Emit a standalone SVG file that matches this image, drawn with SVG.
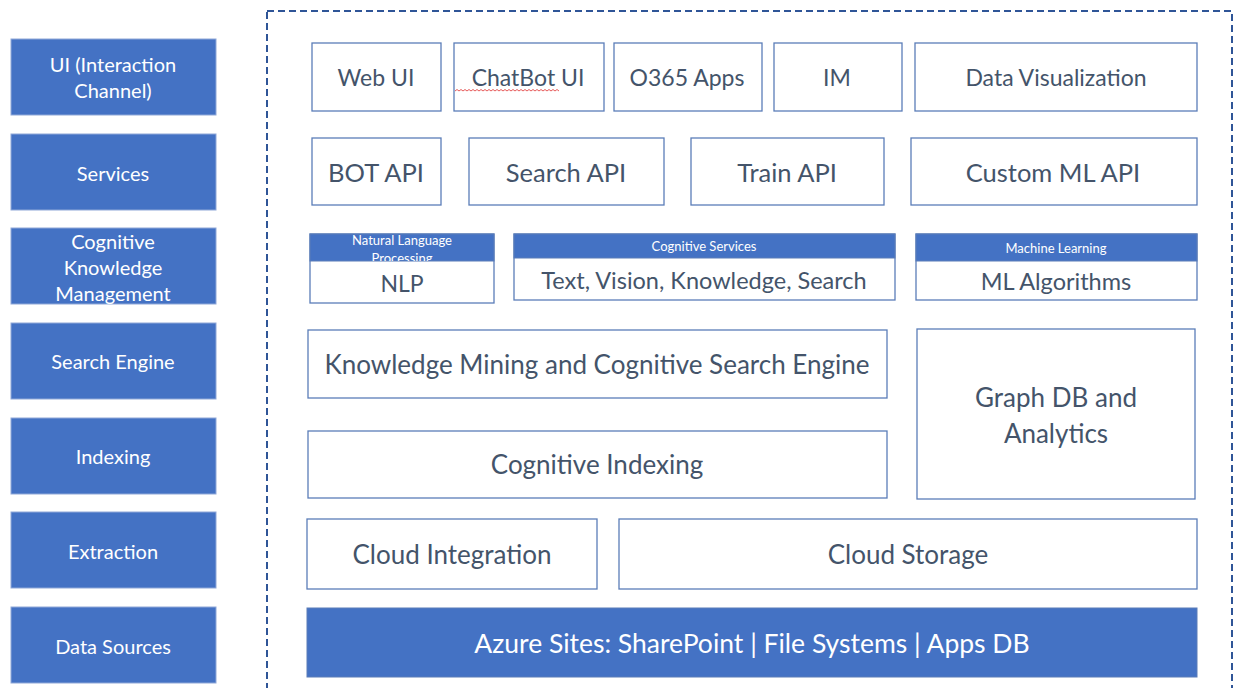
<svg xmlns="http://www.w3.org/2000/svg" width="1234" height="688" viewBox="0 0 1234 688">
<style>
.lb{fill:#4472C4;stroke:#8FA8D8;stroke-width:1}
.lt{fill:#FFFFFF;font-family:Lato,"Open Sans",sans-serif;font-size:20px;text-anchor:middle;dominant-baseline:central}
.wb{fill:#FFFFFF;stroke:#5B7DB8;stroke-width:1.3}
.hb{fill:#4472C4;stroke:#5B7DB8;stroke-width:1}
.t{fill:#44546A;font-family:Lato,"Open Sans",sans-serif;text-anchor:middle;dominant-baseline:central}
.ht{fill:#FFFFFF;font-family:Lato,"Open Sans",sans-serif;font-size:13px;text-anchor:middle;dominant-baseline:central}
.bt{fill:#FFFFFF;font-family:Lato,"Open Sans",sans-serif;font-size:26.5px;text-anchor:middle;dominant-baseline:central}
</style>
<defs><clipPath id="nlpclip"><rect x="310" y="234" width="184" height="27"/></clipPath></defs>
<rect width="1234" height="688" fill="#FFFFFF"/>
<rect id="boundary" x="267" y="11" width="965" height="700" fill="none" stroke="#2F5597" stroke-width="2" stroke-dasharray="7 4"/>
<g id="layers">
<g id="l-ui"><rect class="lb" x="11" y="39" width="205" height="76"/><text class="lt" x="113" y="64">UI (Interaction</text><text class="lt" x="113" y="90">Channel)</text></g>
<g id="l-services"><rect class="lb" x="11" y="134" width="205" height="76"/><text class="lt" x="113" y="173">Services</text></g>
<g id="l-ckm"><rect class="lb" x="11" y="228" width="205" height="76"/><text class="lt" x="113" y="241">Cognitive</text><text class="lt" x="113" y="267">Knowledge</text><text class="lt" x="113" y="293">Management</text></g>
<g id="l-search"><rect class="lb" x="11" y="323" width="205" height="76"/><text class="lt" x="113" y="361">Search Engine</text></g>
<g id="l-indexing"><rect class="lb" x="11" y="418" width="205" height="76"/><text class="lt" x="113" y="456">Indexing</text></g>
<g id="l-extraction"><rect class="lb" x="11" y="512" width="205" height="76"/><text class="lt" x="113" y="551">Extraction</text></g>
<g id="l-datasources"><rect class="lb" x="11" y="607" width="205" height="76"/><text class="lt" x="113" y="646">Data Sources</text></g>
</g>
<g id="webui"><rect class="wb" x="312" y="43" width="129" height="68"/><text class="t" x="376" y="77" font-size="23">Web UI</text></g>
<g id="chatbotui"><rect class="wb" x="454" y="43" width="150" height="68"/><text class="t" x="528" y="77" font-size="23">ChatBot UI</text><path d="M455 91 l2 -1.5 l2 1.5 l2 -1.5 l2 1.5 l2 -1.5 l2 1.5 l2 -1.5 l2 1.5 l2 -1.5 l2 1.5 l2 -1.5 l2 1.5 l2 -1.5 l2 1.5 l2 -1.5 l2 1.5 l2 -1.5 l2 1.5 l2 -1.5 l2 1.5 l2 -1.5 l2 1.5 l2 -1.5 l2 1.5 l2 -1.5 l2 1.5 l2 -1.5 l2 1.5 l2 -1.5 l2 1.5 l2 -1.5 l2 1.5 l2 -1.5 l2 1.5 l2 -1.5 l2 1.5 l2 -1.5 l2 1.5 l2 -1.5 l2 1.5 l2 -1.5 l2 1.5 l2 -1.5 l2 1.5 l2 -1.5 l2 1.5 l2 -1.5 l2 1.5 l2 -1.5 l2 1.5 l2 -1.5 l2 1.5" fill="none" stroke="#E03030" stroke-width="0.8"/></g>
<g id="o365"><rect class="wb" x="614" y="43" width="148" height="68"/><text class="t" x="687" y="77" font-size="23">O365 Apps</text></g>
<g id="im"><rect class="wb" x="774" y="43" width="128" height="68"/><text class="t" x="837" y="77" font-size="23">IM</text></g>
<g id="dataviz"><rect class="wb" x="915" y="43" width="282" height="68"/><text class="t" x="1056" y="77" font-size="23">Data Visualization</text></g>
<g id="botapi"><rect class="wb" x="312" y="138" width="129" height="67"/><text class="t" x="376" y="172" font-size="25.5">BOT API</text></g>
<g id="searchapi"><rect class="wb" x="469" y="138" width="195" height="67"/><text class="t" x="566" y="172" font-size="25.5">Search API</text></g>
<g id="trainapi"><rect class="wb" x="691" y="138" width="193" height="67"/><text class="t" x="787" y="172" font-size="25.5">Train API</text></g>
<g id="customml"><rect class="wb" x="911" y="138" width="286" height="67"/><text class="t" x="1053" y="172" font-size="25.5">Custom ML API</text></g>
<g id="nlp"><rect class="wb" x="310" y="234" width="184" height="69"/><rect class="hb" x="310" y="234" width="184" height="27"/><g clip-path="url(#nlpclip)"><text class="ht" x="402" y="240" font-size="12">Natural Language</text><text class="ht" x="402" y="258" font-size="12">Processing</text></g><text class="t" x="402" y="283" font-size="23">NLP</text></g>
<g id="cogservices"><rect class="wb" x="514" y="234" width="381" height="66"/><rect class="hb" x="514" y="234" width="381" height="24"/><text class="ht" x="704" y="246">Cognitive Services</text><text class="t" x="704" y="280" font-size="23.5">Text, Vision, Knowledge, Search</text></g>
<g id="ml"><rect class="wb" x="916" y="234" width="281" height="66"/><rect class="hb" x="916" y="234" width="281" height="27"/><text class="ht" x="1056" y="248">Machine Learning</text><text class="t" x="1056" y="281" font-size="23.5">ML Algorithms</text></g>
<g id="kmining"><rect class="wb" x="308" y="330" width="579" height="68"/><text class="t" x="597" y="364" font-size="26">Knowledge Mining and Cognitive Search Engine</text></g>
<g id="graphdb"><rect class="wb" x="917" y="329" width="278" height="170"/><text class="t" x="1056" y="397" font-size="26">Graph DB and</text><text class="t" x="1056" y="433" font-size="26">Analytics</text></g>
<g id="cogindexing"><rect class="wb" x="308" y="431" width="579" height="67"/><text class="t" x="597" y="464" font-size="26">Cognitive Indexing</text></g>
<g id="cloudint"><rect class="wb" x="307" y="519" width="290" height="70"/><text class="t" x="452" y="554" font-size="26">Cloud Integration</text></g>
<g id="cloudstorage"><rect class="wb" x="619" y="519" width="578" height="70"/><text class="t" x="908" y="554" font-size="26">Cloud Storage</text></g>
<g id="azure"><rect class="hb" x="307" y="608" width="890" height="69"/><text class="bt" x="752" y="643">Azure Sites: SharePoint | File Systems | Apps DB</text></g>
<g id="connectors"/>
</svg>
